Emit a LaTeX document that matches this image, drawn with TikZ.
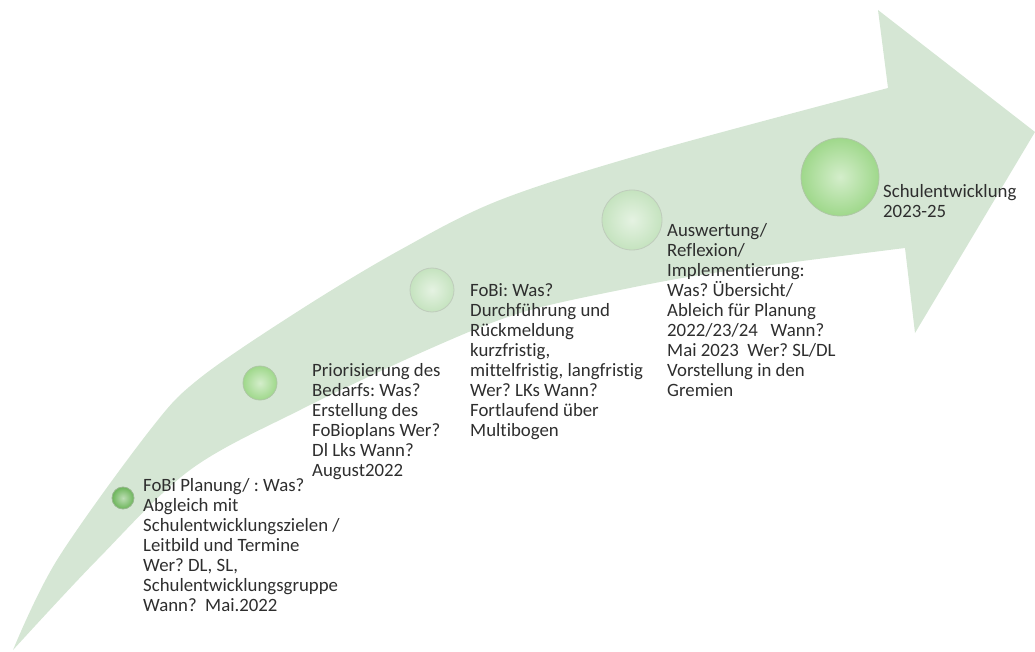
\documentclass[tikz,border=0pt]{standalone}
\usepackage{fontspec}
\setmainfont{Carlito}[Ligatures=NoCommon]
\frenchspacing
\definecolor{ArrowSage}{HTML}{D5E6D4}
\definecolor{DotDeep}{HTML}{6CB55A}
\definecolor{DotFresh}{HTML}{9FD88B}
\definecolor{DotPale}{HTML}{C5E3BF}
\definecolor{NoteGray}{HTML}{2E2E2E}

\begin{document}
\begin{tikzpicture}[x=1pt, y=-1pt,
    every node/.style={font=\fontsize{18.8}{20}\selectfont, text=NoteGray},
    stage/.style={circle, inner sep=0pt, draw=#1!75!black!60, line width=0.8pt, inner color=#1!45!white, outer color=#1},
    note/.style={anchor=north west, align=left, inner sep=0pt}
  ]
    \useasboundingbox (0,0) rectangle (1035,652);

    % the big curved arrow
    \fill[ArrowSage] (13,650)
      -- plot[smooth, tension=0.55] coordinates {(13,650) (57,560) (150,430) (200,378) (300,310) (400,250) (500,200) (650,152) (888,88)}
      -- (878,10) -- (1035,132) -- (915,333) -- (905,248)
      -- plot[smooth, tension=0.55] coordinates {(905,248) (720,272) (620,290) (520,313) (427,350) (300,410) (190,470) (97,560) (13,650)}
      -- cycle;

    % milestones
    \node[stage=DotDeep, minimum size=22pt] (dotA) at (123,498) {};
    \node[stage=DotFresh, minimum size=34pt] (dotB) at (260,383) {};
    \node[stage=DotPale, minimum size=44pt] (dotC) at (432,290) {};
    \node[stage=DotPale, minimum size=60pt] (dotD) at (632,220) {};
    \node[stage=DotFresh, minimum size=78pt] (dotE) at (840,177) {};

    \node[note] (txtA) at (143,478) {FoBi Planung/ : Was?\\Abgleich mit\\Schulentwicklungszielen /\\Leitbild und Termine\\Wer? DL, SL,\\Schulentwicklungsgruppe\\Wann?~~Mai.2022};
    \node[note] (txtB) at (312,363) {Priorisierung des\\Bedarfs: Was?\\Erstellung des\\FoBioplans Wer?\\Dl Lks Wann?\\August2022};
    \node[note] (txtC) at (470,283) {FoBi: Was?\\Durchführung und\\Rückmeldung\\kurzfristig,\\mittelfristig, langfristig\\Wer? LKs Wann?\\Fortlaufend über\\Multibogen};
    \node[note] (txtD) at (667,223.5) {Auswertung/\\Reflexion/\\Implementierung:\\Was? Übersicht/\\Ableich für Planung\\2022/23/24~~~Wann?\\Mai 2023~~Wer? SL/DL\\Vorstellung in den\\Gremien};
    \node[note] (txtE) at (883,184.5) {Schulentwicklung\\2023-25};
  \end{tikzpicture}
\end{document}
